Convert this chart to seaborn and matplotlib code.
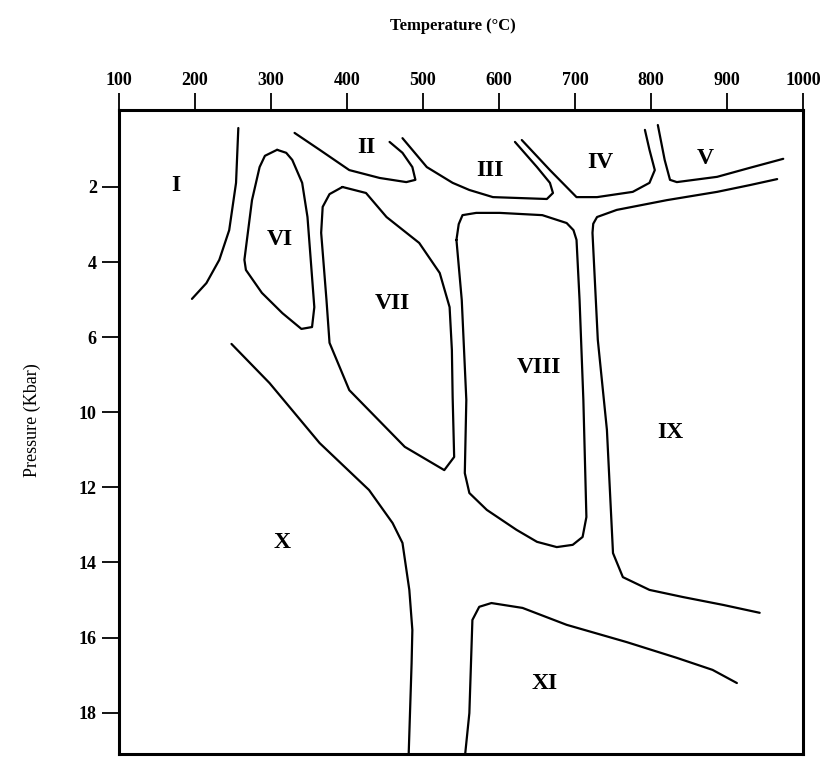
import matplotlib
matplotlib.use("Agg")
import matplotlib.pyplot as plt
import numpy as np
import pandas as pd
import seaborn as sns

sns.set_style("white")
plt.rcParams["font.family"] = ["Liberation Serif", "DejaVu Serif"]
plt.rcParams["text.color"] = "black"
plt.rcParams["xtick.color"] = "black"
plt.rcParams["ytick.color"] = "black"

# Axis ticks (pressure axis is in tick-position units, labels as printed)
t_ticks = [100, 200, 300, 400, 500, 600, 700, 800, 900, 1000]
p_ticks = [2, 4, 6, 8, 10, 12, 14, 16]
p_labels = ["2", "4", "6", "10", "12", "14", "16", "18"]

# Field boundaries: temperature (°C) and pressure position
curve_i_t = [257, 254, 245, 232, 215, 196]
curve_i_p = [0.43, 1.89, 3.15, 3.94, 4.56, 4.98]

curve_ii_t = [331, 364, 403, 443, 478, 490, 486, 473, 456]
curve_ii_p = [0.56, 1.01, 1.55, 1.76, 1.87, 1.81, 1.47, 1.09, 0.80]

curve_iii_t = [473, 505, 539, 561, 592, 663, 671, 667, 650, 621]
curve_iii_p = [0.70, 1.47, 1.89, 2.08, 2.27, 2.32, 2.16, 1.89, 1.47, 0.80]

curve_iv_t = [630, 667, 702, 729, 776, 798, 805, 798, 792]
curve_iv_p = [0.75, 1.55, 2.27, 2.27, 2.13, 1.89, 1.55, 1.01, 0.48]

curve_v_t = [809, 818, 825, 834, 887, 930, 974]
curve_v_p = [0.35, 1.28, 1.81, 1.87, 1.73, 1.49, 1.25]

loop_vi_t = [308, 292, 285, 275, 265, 267, 288, 315, 340, 354, 357, 353, 348, 341,
             328, 320, 308]
loop_vi_p = [1.01, 1.17, 1.47, 2.35, 3.94, 4.21, 4.82, 5.36, 5.78, 5.73, 5.20, 4.13,
             2.80, 1.89, 1.28, 1.09, 1.01]

loop_vii_t = [394, 425, 452, 495, 522, 535, 538, 539, 541, 528, 476, 403, 377, 373,
              366, 368, 377, 394]
loop_vii_p = [2.00, 2.16, 2.80, 3.49, 4.29, 5.20, 6.34, 7.59, 9.19, 9.54, 8.92, 7.41,
              6.15, 5.01, 3.22, 2.53, 2.19, 2.00]

loop_viii_t = [544, 547, 552, 570, 601, 657, 689, 698, 702, 706, 711, 715, 710, 697,
               676, 650, 623, 584, 561, 555, 557, 551, 544]
loop_viii_p = [3.41, 2.99, 2.75, 2.69, 2.69, 2.75, 2.96, 3.15, 3.41, 5.01, 7.67, 10.79,
               11.32, 11.53, 11.59, 11.45, 11.13, 10.60, 10.15, 9.62, 7.67, 5.01, 3.41]

curve_ix_t = [966, 930, 887, 821, 755, 729, 724, 723, 730, 742, 750, 763, 798, 842,
              895, 943]
curve_ix_p = [1.79, 1.95, 2.13, 2.35, 2.61, 2.80, 2.98, 3.22, 6.07, 8.47, 11.75,
              12.39, 12.73, 12.92, 13.13, 13.34]

curve_x_t = [248, 298, 364, 429, 460, 473, 482, 486, 485, 481]
curve_x_p = [6.18, 7.22, 8.82, 10.07, 10.95, 11.48, 12.73, 13.80, 14.68, 17.2]

curve_xi_t = [555, 561, 565, 574, 590, 631, 689, 768, 834, 881, 913]
curve_xi_p = [17.2, 16.01, 13.53, 13.18, 13.08, 13.21, 13.66, 14.12, 14.54, 14.86, 15.21]

# Field labels
field_names = ["I", "II", "III", "IV", "V", "VI", "VII", "VIII", "IX", "X", "XI"]
field_t = [175, 426, 588, 733, 872, 311, 460, 653, 825, 315, 660]
field_p = [1.95, 0.96, 1.55, 1.36, 1.23, 3.41, 5.09, 6.82, 8.55, 11.48, 15.21]

curves = {
    "I": (curve_i_t, curve_i_p),
    "II": (curve_ii_t, curve_ii_p),
    "III": (curve_iii_t, curve_iii_p),
    "IV": (curve_iv_t, curve_iv_p),
    "V": (curve_v_t, curve_v_p),
    "VI": (loop_vi_t, loop_vi_p),
    "VII": (loop_vii_t, loop_vii_p),
    "VIII": (loop_viii_t, loop_viii_p),
    "IX": (curve_ix_t, curve_ix_p),
    "X": (curve_x_t, curve_x_p),
    "XI": (curve_xi_t, curve_xi_p),
}
frames = []
for name, (t, p) in curves.items():
    frames.append(pd.DataFrame({"curve": name, "order": np.arange(len(t)), "T": t, "P": p}))
df = pd.concat(frames, ignore_index=True)

fig = plt.figure(figsize=(8.26, 7.64), dpi=100)
ax = fig.add_axes([119 / 826, 1 - 754 / 764, 684 / 826, 644 / 764])

sns.lineplot(data=df, x="T", y="P", units="curve", estimator=None, sort=False,
             color="black", linewidth=1.6, ax=ax, legend=False)

for name, t, p in zip(field_names, field_t, field_p):
    ax.text(t, p, name, ha="center", va="center", fontsize=17, fontweight="bold",
            color="black")

ax.set_xlim(100, 1000)
ax.set_ylim(17.1, -0.05)
ax.xaxis.tick_top()
ax.set_xticks(t_ticks)
ax.set_xticklabels([str(v) for v in t_ticks])
ax.set_yticks(p_ticks)
ax.set_yticklabels(p_labels)
ax.tick_params(axis="x", top=True, bottom=False, direction="out", length=12, width=1.3,
               labelsize=13, pad=3, colors="black")
ax.tick_params(axis="y", left=True, direction="out", length=12, width=1.3,
               labelsize=13, pad=4, colors="black")
for lab in ax.get_xticklabels() + ax.get_yticklabels():
    lab.set_fontweight("bold")
for spine in ax.spines.values():
    spine.set_linewidth(2.2)
    spine.set_color("black")
ax.set_xlabel("")
ax.set_ylabel("")

fig.text(453 / 826, 1 - 26 / 764, "Temperature (°C)", ha="center", va="center",
         fontsize=12, fontweight="bold", color="black")
fig.text(32 / 826, 1 - 420 / 764, "Pressure (Kbar)", ha="center", va="center",
         fontsize=13, rotation=90, color="black")

fig.savefig("out.png", dpi=100)
